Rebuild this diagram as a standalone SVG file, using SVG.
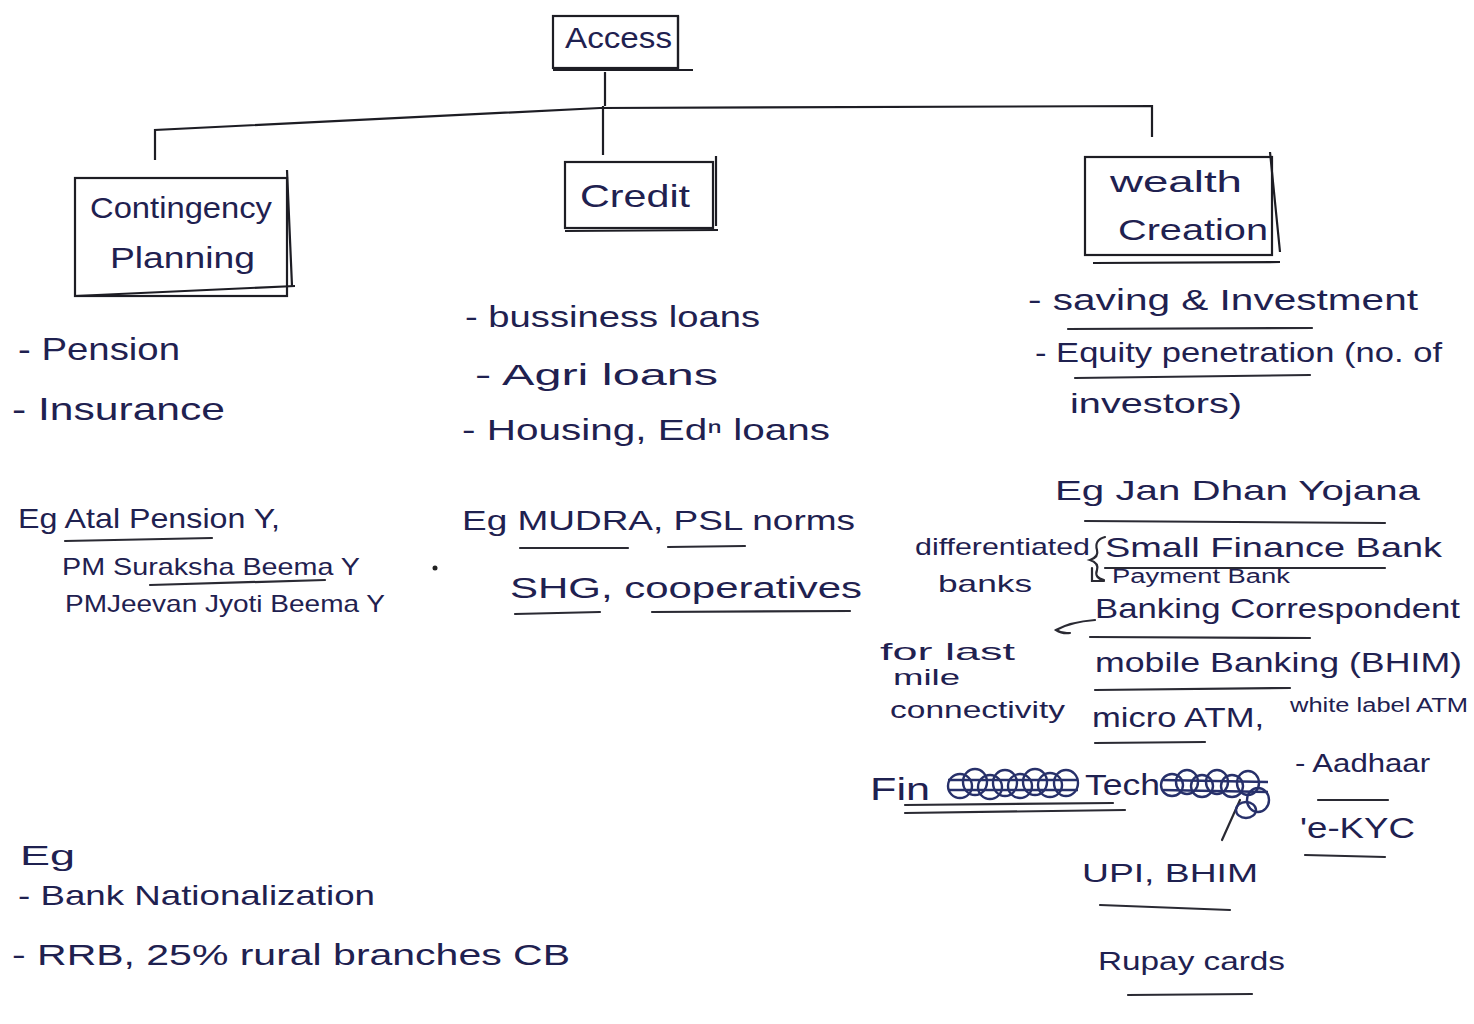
<svg xmlns="http://www.w3.org/2000/svg" width="1474" height="1024" viewBox="0 0 1474 1024">
<style>
text{font-family:"Liberation Sans",Arial,sans-serif;fill:#1f2150}
.b{fill:none;stroke:#1d1d24;stroke-width:2.2}
.u{fill:none;stroke:#2a2a33;stroke-width:2.2;stroke-linecap:round}
.c{fill:none;stroke:#1d1d24;stroke-width:2.2}
.s{fill:none;stroke:#27306a;stroke-width:2.4}
</style>
<rect width="1474" height="1024" fill="#ffffff"/>
<g id="connectors">
<path class="c" d="M605,72 L605,106"/>
<path class="c" d="M155,160 L155,130 L600,108 L1152,106 L1152,137"/>
<path class="c" d="M603,106 L603,155"/>
<path class="u" d="M1095,620 Q1070,622 1056,630 Q1062,634 1070,633"/>
<path class="u" d="M1240,800 L1222,840"/>
</g>
<g id="access">
<rect class="b" x="553" y="16" width="125" height="52"/>
<path class="b" d="M678,16 L678,70 M553,70 L693,70"/>
<text x="565" y="48" font-size="30" textLength="107" lengthAdjust="spacingAndGlyphs">Access</text>
</g>
<g id="contingency">
<rect class="b" x="75" y="178" width="212" height="118"/>
<path class="b" d="M287,170 L292,286 M75,296 L295,286"/>
<text x="90" y="218" font-size="30" textLength="182" lengthAdjust="spacingAndGlyphs">Contingency</text>
<text x="110" y="268" font-size="30" textLength="145" lengthAdjust="spacingAndGlyphs">Planning</text>
</g>
<g id="credit">
<rect class="b" x="565" y="162" width="148" height="66"/>
<path class="b" d="M716,156 L716,226 M565,231 L718,230"/>
<text x="580" y="207" font-size="32" textLength="110" lengthAdjust="spacingAndGlyphs">Credit</text>
</g>
<g id="wealth">
<rect class="b" x="1085" y="157" width="187" height="98"/>
<path class="b" d="M1270,152 L1280,252 M1093,263 L1280,262"/>
<text x="1110" y="192" font-size="30" textLength="132" lengthAdjust="spacingAndGlyphs">wealth</text>
<text x="1118" y="240" font-size="30" textLength="150" lengthAdjust="spacingAndGlyphs">Creation</text>
</g>
<g id="contingency-notes">
<text x="18" y="360" font-size="32" textLength="162" lengthAdjust="spacingAndGlyphs">- Pension</text>
<text x="12" y="420" font-size="32" textLength="213" lengthAdjust="spacingAndGlyphs">- Insurance</text>
<text x="18" y="528" font-size="28" textLength="262" lengthAdjust="spacingAndGlyphs">Eg Atal Pension Y,</text>
<text x="62" y="575" font-size="24" textLength="298" lengthAdjust="spacingAndGlyphs">PM Suraksha Beema Y</text>
<text x="65" y="612" font-size="24" textLength="320" lengthAdjust="spacingAndGlyphs">PMJeevan Jyoti Beema Y</text>
<path class="u" d="M65,541 L212,538 M150,585 L325,580"/>
<circle cx="435" cy="568" r="2.5" fill="#222"/>
<text x="20" y="865" font-size="28" textLength="55" lengthAdjust="spacingAndGlyphs">Eg</text>
<text x="18" y="905" font-size="28" textLength="357" lengthAdjust="spacingAndGlyphs">- Bank Nationalization</text>
<text x="12" y="965" font-size="30" textLength="558" lengthAdjust="spacingAndGlyphs">- RRB, 25% rural branches CB</text>
</g>
<g id="credit-notes">
<text x="465" y="327" font-size="30" textLength="295" lengthAdjust="spacingAndGlyphs">- bussiness loans</text>
<text x="475" y="385" font-size="30" textLength="243" lengthAdjust="spacingAndGlyphs">- Agri loans</text>
<text x="462" y="440" font-size="30" textLength="368" lengthAdjust="spacingAndGlyphs">- Housing, Edⁿ loans</text>
<text x="462" y="530" font-size="28" textLength="393" lengthAdjust="spacingAndGlyphs">Eg MUDRA, PSL norms</text>
<text x="510" y="598" font-size="30" textLength="352" lengthAdjust="spacingAndGlyphs">SHG, cooperatives</text>
<path class="u" d="M520,548 L628,548 M668,547 L745,546 M515,614 L600,612 M652,612 L850,611"/>
</g>
<g id="wealth-notes">
<text x="1028" y="310" font-size="30" textLength="390" lengthAdjust="spacingAndGlyphs">- saving &amp; Investment</text>
<text x="1035" y="362" font-size="28" textLength="407" lengthAdjust="spacingAndGlyphs">- Equity penetration (no. of</text>
<text x="1070" y="413" font-size="28" textLength="172" lengthAdjust="spacingAndGlyphs">investors)</text>
<path class="u" d="M1068,329 L1312,328 M1075,378 L1310,375"/>
<text x="1055" y="500" font-size="28" textLength="365" lengthAdjust="spacingAndGlyphs">Eg Jan Dhan Yojana</text>
<text x="915" y="555" font-size="24" textLength="175" lengthAdjust="spacingAndGlyphs">differentiated</text>
<text x="938" y="592" font-size="24" textLength="94" lengthAdjust="spacingAndGlyphs">banks</text>
<path class="u" d="M1105,537 Q1094,540 1097,550 Q1099,557 1090,560 Q1099,563 1097,570 Q1094,578 1104,580"/>
<path class="u" d="M1092,568 L1092,581 L1104,581"/>
<text x="1105" y="557" font-size="28" textLength="337" lengthAdjust="spacingAndGlyphs">Small Finance Bank</text>
<text x="1112" y="583" font-size="20" textLength="178" lengthAdjust="spacingAndGlyphs">Payment Bank</text>
<text x="1095" y="618" font-size="28" textLength="365" lengthAdjust="spacingAndGlyphs">Banking Correspondent</text>
<text x="880" y="660" font-size="24" textLength="135" lengthAdjust="spacingAndGlyphs">for last</text>
<text x="893" y="685" font-size="22" textLength="67" lengthAdjust="spacingAndGlyphs">mile</text>
<text x="890" y="718" font-size="24" textLength="175" lengthAdjust="spacingAndGlyphs">connectivity</text>
<text x="1095" y="672" font-size="28" textLength="367" lengthAdjust="spacingAndGlyphs">mobile Banking (BHIM)</text>
<text x="1092" y="727" font-size="28" textLength="172" lengthAdjust="spacingAndGlyphs">micro ATM,</text>
<text x="1290" y="712" font-size="20" textLength="178" lengthAdjust="spacingAndGlyphs">white label ATM</text>
<path class="u" d="M1085,521 L1385,523 M1105,568 L1385,568 M1090,637 L1310,638 M1095,690 L1290,688 M1095,743 L1205,742"/>
<text x="870" y="800" font-size="32" textLength="60" lengthAdjust="spacingAndGlyphs">Fin</text>
<g class="s">
<ellipse cx="960" cy="786" rx="12" ry="12"/><ellipse cx="975" cy="782" rx="12" ry="13"/><ellipse cx="990" cy="787" rx="12" ry="12"/><ellipse cx="1005" cy="783" rx="12" ry="13"/><ellipse cx="1020" cy="786" rx="12" ry="12"/><ellipse cx="1035" cy="782" rx="12" ry="13"/><ellipse cx="1050" cy="785" rx="12" ry="12"/><ellipse cx="1066" cy="783" rx="12" ry="13"/>
<path d="M948,780 L1078,780 M948,790 L1078,790"/>
</g>
<text x="1085" y="795" font-size="30" textLength="75" lengthAdjust="spacingAndGlyphs">Tech</text>
<g class="s">
<ellipse cx="1172" cy="785" rx="11" ry="11"/><ellipse cx="1187" cy="782" rx="11" ry="12"/><ellipse cx="1202" cy="786" rx="11" ry="11"/><ellipse cx="1217" cy="782" rx="11" ry="12"/><ellipse cx="1232" cy="786" rx="11" ry="11"/><ellipse cx="1248" cy="783" rx="11" ry="12"/><ellipse cx="1258" cy="800" rx="11" ry="12"/><ellipse cx="1246" cy="810" rx="10" ry="8"/>
<path d="M1162,780 L1268,782 M1162,790 L1268,792"/>
</g>
<path class="u" d="M905,805 L1113,803 M905,813 L1125,810"/>
<text x="1295" y="772" font-size="26" textLength="135" lengthAdjust="spacingAndGlyphs">- Aadhaar</text>
<text x="1300" y="838" font-size="30" textLength="115" lengthAdjust="spacingAndGlyphs">'e-KYC</text>
<path class="u" d="M1318,800 L1388,800 M1305,855 L1385,857"/>
<text x="1082" y="882" font-size="26" textLength="176" lengthAdjust="spacingAndGlyphs">UPI, BHIM</text>
<path class="u" d="M1100,905 L1230,910"/>
<text x="1098" y="970" font-size="26" textLength="187" lengthAdjust="spacingAndGlyphs">Rupay cards</text>
<path class="u" d="M1128,995 L1252,994"/>
</g>
</svg>
